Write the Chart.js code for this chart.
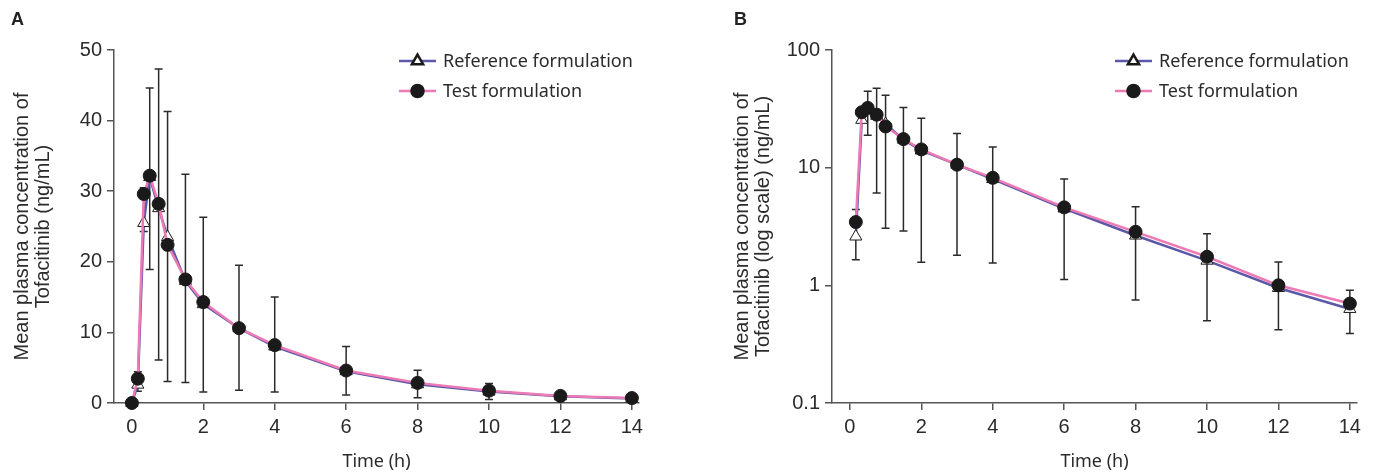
<!DOCTYPE html>
<html>
<head>
<meta charset="utf-8">
<title>Tofacitinib concentration</title>
<script src="https://cdn.jsdelivr.net/npm/chart.js@4.4.1/dist/chart.umd.min.js"></script>
<style>
  body { margin: 0; background: #fff; }
  #wrap { position: relative; width: 1373px; height: 473px; }
  .panel { position: absolute; top: 0; height: 473px; }
  #boxA { left: 0; width: 686px; }
  #boxB { left: 686px; width: 687px; }
  .tag { position: absolute; top: 9px; font: bold 18px 'Liberation Sans', Arial, sans-serif; color: #222; }
</style>
</head>
<body>
<div id="wrap">
  <div class="panel" id="boxA"><canvas id="chartA" width="686" height="473"></canvas></div>
  <div class="panel" id="boxB"><canvas id="chartB" width="687" height="473"></canvas></div>
  <div class="tag" style="left:11px">A</div>
  <div class="tag" style="left:734px">B</div>
</div>
<script>
'use strict';

//========== Data ==========
let times = [0, 0.167, 0.333, 0.5, 0.75, 1, 1.5, 2, 3, 4, 6, 8, 10, 12, 14];
let refMean = [0, 2.6, 25.5, 32.0, 27.6, 23.5, 17.3, 14.0, 10.6, 8.0, 4.5, 2.65, 1.62, 0.95, 0.63];
let testMean = [0, 3.45, 29.6, 32.2, 28.2, 22.4, 17.5, 14.3, 10.6, 8.2, 4.6, 2.85, 1.75, 1.0, 0.7];
let errLow = [null, 1.65, 24.3, 18.9, 6.1, 3.05, 2.9, 1.57, 1.8, 1.55, 1.12, 0.75, 0.5, 0.42, 0.39];
let errHigh = [null, 4.41, 30.5, 44.6, 47.3, 41.3, 32.4, 26.3, 19.5, 15.0, 8.0, 4.65, 2.75, 1.58, 0.91];
let seriesNames = ['Reference formulation', 'Test formulation'];
let xTicks = [0, 2, 4, 6, 8, 10, 12, 14];
let linTicks = [0, 10, 20, 30, 40, 50];
let logTicks = [0.1, 1, 10, 100];

//========== Styles ==========
let refColor = '#5b58a8';
let testColor = '#ee7ab5';
let axisColor = '#555';
let textColor = '#2b2b2b';
let tickFont = { family: "'Liberation Sans', Arial, sans-serif", size: 20 };

//========== Plugins ==========
// vertical error bars, drawn under the markers
let errorBars = {
  id: 'errorBars',
  beforeDatasetsDraw(chart) {
    let ctx = chart.ctx;
    let xs = chart.scales.x;
    let ys = chart.scales.y;
    ctx.save();
    ctx.strokeStyle = '#2a2a2a';
    ctx.lineWidth = 1.5;
    for (let i = 0; i < times.length; i++) {
      if (errLow[i] === null) continue;
      let px = xs.getPixelForValue(times[i]);
      let top = ys.getPixelForValue(errHigh[i]);
      let bot = ys.getPixelForValue(errLow[i]);
      ctx.beginPath();
      ctx.moveTo(px, top);
      ctx.lineTo(px, bot);
      ctx.moveTo(px - 4, top);
      ctx.lineTo(px + 4, top);
      ctx.moveTo(px - 4, bot);
      ctx.lineTo(px + 4, bot);
      ctx.stroke();
    }
    ctx.restore();
  }
};

// legend with the marker sitting on a short line
let lineLegend = {
  id: 'lineLegend',
  afterDraw(chart, args, opts) {
    let ctx = chart.ctx;
    ctx.save();
    chart.data.datasets.forEach(function (ds, i) {
      let y = opts.y + i * 30;
      ctx.strokeStyle = ds.borderColor;
      ctx.lineWidth = 2.5;
      ctx.beginPath();
      ctx.moveTo(opts.x, y);
      ctx.lineTo(opts.x + 37, y);
      ctx.stroke();
      ctx.fillStyle = ds.pointBackgroundColor;
      ctx.strokeStyle = ds.pointBorderColor;
      Chart.helpers.drawPoint(ctx, {
        pointStyle: ds.pointStyle, radius: ds.pointRadius - 0.5, rotation: 0, borderWidth: 1
      }, opts.x + 18.5, y);
      ctx.fillStyle = textColor;
      ctx.font = "18px 'Noto Sans', sans-serif";
      ctx.textBaseline = 'middle';
      ctx.fillText(ds.label, opts.x + 44, y + 1);
    });
    ctx.restore();
  }
};

//========== Builders ==========
function makeDatasets(isLog) {
  let fix = function (arr) {
    return arr.map((v, i) => ({ x: times[i], y: (isLog && v <= 0) ? null : v }));
  };
  return [
    {
      label: seriesNames[0],
      data: fix(refMean),
      borderColor: refColor,
      borderWidth: 2.5,
      pointStyle: 'triangle',
      pointRadius: 7,
      pointBackgroundColor: '#fff',
      pointBorderColor: '#1a1a1a',
      pointBorderWidth: 1,
      tension: 0,
      clip: false,
      order: 2
    },
    {
      label: seriesNames[1],
      data: fix(testMean),
      borderColor: testColor,
      borderWidth: 2.5,
      pointStyle: 'circle',
      pointRadius: 6.5,
      pointBackgroundColor: '#1a1a1a',
      pointBorderColor: '#1a1a1a',
      pointBorderWidth: 1,
      tension: 0,
      clip: false,
      order: 1
    }
  ];
}

function makeChart(canvasId, isLog, yWidth, titlePad, padRight, legendX, yTitle) {
  let yScale = {
    type: isLog ? 'logarithmic' : 'linear',
    min: isLog ? 0.1 : 0,
    max: isLog ? 100 : 50,
    afterBuildTicks: function (scale) {
      scale.ticks = (isLog ? logTicks : linTicks).map(v => ({ value: v }));
    },
    afterFit: function (scale) { scale.width = yWidth; },
    ticks: {
      color: textColor, font: tickFont, padding: 5,
      callback: function (v) { return String(v); }
    },
    grid: { drawOnChartArea: false, tickLength: 7, color: axisColor, lineWidth: 1.5 },
    border: { display: true, color: axisColor, width: 1.5 },
    title: {
      display: true,
      text: yTitle,
      color: textColor,
      font: { family: "'Liberation Sans', Arial, sans-serif", size: 20, lineHeight: 1.05 },
      padding: { top: titlePad, bottom: 0 }
    }
  };

  return new Chart(document.getElementById(canvasId), {
    type: 'line',
    data: {
      datasets: makeDatasets(isLog)
    },
    options: {
      responsive: false,
      animation: false,
      devicePixelRatio: 1,
      layout: { padding: { left: 0, top: 50, right: padRight, bottom: 0 } },
      scales: {
        x: {
          type: 'linear',
          min: -0.5,
          max: 14.2,
          afterBuildTicks: function (scale) {
            scale.ticks = xTicks.map(v => ({ value: v }));
          },
          afterFit: function (scale) { scale.height = 70; },
          ticks: { color: textColor, font: tickFont, padding: 5 },
          grid: { drawOnChartArea: false, tickLength: 7, color: axisColor, lineWidth: 1.5 },
          border: { display: true, color: axisColor, width: 1.5 },
          title: {
            display: true,
            text: 'Time (h)',
            color: textColor,
            font: { family: "'Noto Sans', sans-serif", size: 18, lineHeight: 1.2 },
            padding: { top: 0, bottom: 0 }
          }
        },
        y: yScale
      },
      plugins: {
        legend: { display: false },
        tooltip: { enabled: false },
        lineLegend: { x: legendX, y: 61 }
      }
    },
    plugins: [errorBars, lineLegend]
  });
}

let chartA = makeChart('chartA', false, 114, 11.5, 47, 399,
  ['Mean plasma concentration of', 'Tofacitinib (ng/mL)']);
let chartB = makeChart('chartB', true, 146, 45.5, 16, 429,
  ['Mean plasma concentration of', 'Tofacitinib (log scale) (ng/mL)']);
</script>
</body>
</html>
